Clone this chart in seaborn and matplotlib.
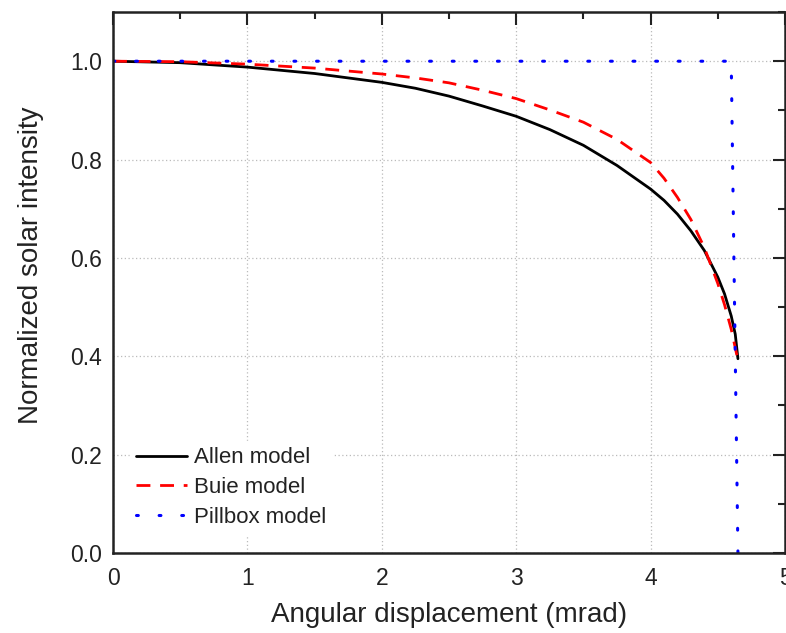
import matplotlib
matplotlib.use("Agg")
import matplotlib.pyplot as plt
import seaborn as sns
from matplotlib.ticker import MultipleLocator

# Data
allen_x = [0.0, 0.5, 1.0, 1.5, 2.0, 2.25, 2.5, 2.75, 3.0, 3.25, 3.5, 3.75,
           4.0, 4.1, 4.2, 4.3, 4.4, 4.5, 4.55, 4.6, 4.63, 4.65]
allen_y = [1.0, 0.997, 0.988, 0.975, 0.957, 0.945, 0.929, 0.909, 0.888, 0.861, 0.829, 0.788,
           0.740, 0.717, 0.689, 0.655, 0.615, 0.561, 0.527, 0.482, 0.445, 0.395]

buie_x = [0.0, 0.5, 1.0, 1.5, 2.0, 2.25, 2.5, 2.75, 3.0, 3.25, 3.5, 3.75,
          4.0, 4.1, 4.2, 4.3, 4.4, 4.5, 4.55, 4.6, 4.65]
buie_y = [1.0, 0.999, 0.994, 0.986, 0.974, 0.966, 0.956, 0.941, 0.924, 0.901, 0.876, 0.841,
          0.794, 0.762, 0.723, 0.678, 0.621, 0.548, 0.505, 0.455, 0.392]

pill_x = [0.0, 4.6, 4.65]
pill_y = [1.0, 1.0, 0.0]

labels = ["Allen model", "Buie model", "Pillbox model"]

sns.set_style("white")
plt.rcParams["font.family"] = ["Liberation Sans", "DejaVu Sans"]

fig = plt.figure(figsize=(7.86, 6.33), dpi=100)
ax = fig.add_axes([0.1438, 0.1264, 0.8549, 0.8546])

sns.lineplot(x=allen_x, y=allen_y, ax=ax, color="black", lw=2.0, label=labels[0],
             sort=False, estimator=None)
sns.lineplot(x=buie_x, y=buie_y, ax=ax, color="#ff0000", lw=2.0, label=labels[1],
             sort=False, estimator=None)
sns.lineplot(x=pill_x, y=pill_y, ax=ax, color="#0000ff", lw=2.2, label=labels[2],
             sort=False, estimator=None)

lines = ax.get_lines()
lines[0].set_solid_joinstyle("round")
lines[1].set_linestyle((0, (5, 3.5)))
lines[2].set_linestyle((0, (0.6, 6.8)))
lines[2].set_dash_capstyle("round")

ax.set_xlim(0, 5)
ax.set_ylim(0, 1.1)
ax.xaxis.set_minor_locator(MultipleLocator(0.5))
ax.yaxis.set_minor_locator(MultipleLocator(0.1))
ax.set_yticks([0, 0.2, 0.4, 0.6, 0.8, 1.0])
ax.set_yticklabels(["0.0", "0.2", "0.4", "0.6", "0.8", "1.0"])
ax.set_xticks([0, 1, 2, 3, 4, 5])
ax.set_xticklabels(["0", "1", "2", "3", "4", "5"])

ax.tick_params(which="both", direction="in", top=True, right=True, colors="#222222",
               labelcolor="#222222", width=1.5)
ax.tick_params(which="major", length=9, labelsize=16.5, pad=8)
ax.tick_params(axis="x", which="major", pad=10)
ax.tick_params(which="minor", length=5)

for s in ax.spines.values():
    s.set_linewidth(1.8)
    s.set_color("#222222")

ax.grid(True, which="major", linestyle=(0, (1, 2)), color="#bbbbbb", lw=0.9)
ax.set_axisbelow(True)

ax.set_xlabel("Angular displacement (mrad)", fontsize=20, labelpad=9, color="#222222")
ax.set_ylabel("Normalized solar intensity", fontsize=20, color="#222222")
ax.yaxis.set_label_coords(-0.102, 0.532)

leg = ax.legend(loc="lower left", bbox_to_anchor=(0.008, 0.014), fontsize=16,
                frameon=True, framealpha=1.0, edgecolor="white", fancybox=False,
                handlelength=2.3, handletextpad=0.3, labelspacing=0.39, borderpad=0.3)
for t in leg.get_texts():
    t.set_color("#222222")

fig.savefig("out.png", dpi=100)
